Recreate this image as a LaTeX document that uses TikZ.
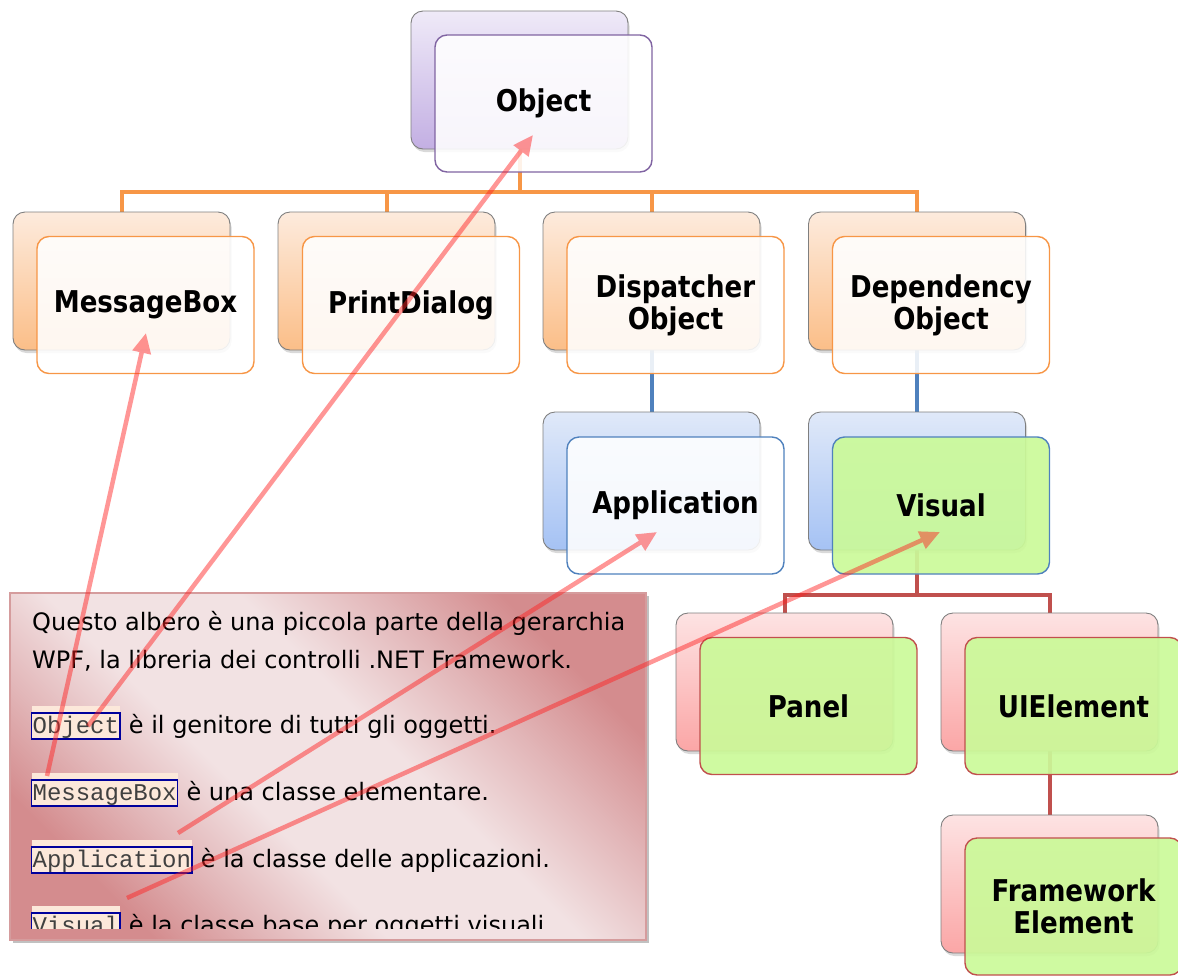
\documentclass[tikz,border=0pt]{standalone}
\usepackage{fontspec}
\setmainfont{DejaVu Sans}
\newfontfamily\labfont{DejaVu Sans}[FakeStretch=0.87]
\newfontfamily\tagmono{Liberation Mono}
\usetikzlibrary{arrows.meta,shadows,calc}
\pgfdeclarelayer{bg}
\pgfsetlayers{bg,main}
\definecolor{orln}{HTML}{F79646}
\definecolor{blln}{HTML}{4F81BD}
\definecolor{rdln}{HTML}{C0504D}
\definecolor{puln}{HTML}{8064A2}
\definecolor{putop}{HTML}{EFEAF8}
\definecolor{pubot}{HTML}{C3AFE3}
\definecolor{ortop}{HTML}{FDEBDD}
\definecolor{orbot}{HTML}{FBBE88}
\definecolor{bltop}{HTML}{E0E9F9}
\definecolor{blbot}{HTML}{A5C2F4}
\definecolor{rdtop}{HTML}{FDE3E3}
\definecolor{rdbot}{HTML}{FBA6A6}
\definecolor{grfill}{HTML}{CBFA99}
\definecolor{backdraw}{HTML}{7F7F7F}
\definecolor{tbdark}{HTML}{D48C8E}
\definecolor{tbmid}{HTML}{E2B6B8}
\definecolor{tblight}{HTML}{F2E2E3}
\definecolor{tbborder}{HTML}{D59C9D}
\definecolor{tagblue}{HTML}{00009C}
\definecolor{peach}{HTML}{FCE8DA}
\definecolor{tagtext}{HTML}{404040}
\definecolor{arrcol}{HTML}{FF2020}
\pgfdeclarehorizontalshading{panelshade}{100bp}{color(0bp)=(tbdark); color(25bp)=(tbdark); color(33bp)=(tbmid); color(42bp)=(tblight); color(56bp)=(tblight); color(66bp)=(tbmid); color(75bp)=(tbdark); color(100bp)=(tbdark)}
\begin{document}
\begin{tikzpicture}[x=1pt,y=-1pt,
  backbox/.style={draw=backdraw, line width=0.9pt, rounded corners=12pt,
    minimum width=217pt, minimum height=138pt, inner sep=0pt,
    drop shadow={shadow xshift=1.5pt, shadow yshift=-3pt, opacity=0.3}},
  purpleback/.style={backbox, top color=putop, bottom color=pubot},
  orangeback/.style={backbox, top color=ortop, bottom color=orbot},
  blueback/.style={backbox, top color=bltop, bottom color=blbot},
  redback/.style={backbox, top color=rdtop, bottom color=rdbot},
  frontbox/.style={line width=1.4pt, rounded corners=12pt,
    minimum width=217pt, minimum height=137pt, inner sep=0pt,
    fill=white, fill opacity=0.88, text opacity=1, align=center,
    font=\labfont\bfseries\fontsize{30}{32}\selectfont},
  greenbox/.style={frontbox, fill=grfill, fill opacity=0.92},
  orconn/.style={draw=orln, line width=4pt},
  blconn/.style={draw=blln, line width=4pt},
  rdconn/.style={draw=rdln, line width=4pt},
  panel/.style={draw=tbborder, line width=1.5pt, minimum width=636pt, minimum height=347pt,
    inner sep=0pt, shading=panelshade, shading angle=45,
    drop shadow={shadow xshift=3pt, shadow yshift=-3pt, opacity=0.35, fill=black!70}},
  bodytxt/.style={inner sep=0pt, font=\fontsize{24}{28}\selectfont, text=black},
  tagbox/.style={draw=tagblue, line width=1.3pt, fill=peach, inner xsep=1pt, inner ysep=2pt,
    text height=18pt, text depth=4pt, text=tagtext, font=\tagmono\fontsize{24}{26}\selectfont},
  arr/.style={draw=arrcol, line width=4.5pt, -{Triangle[length=20pt,width=18pt]}}
]
\useasboundingbox (0,0) rectangle (1178,978);

% back boxes
\node[purpleback] (objB) at (519.5,80) {};
\node[orangeback] (mbB) at (121.5,281) {};
\node[orangeback] (pdB) at (386.5,281) {};
\node[orangeback] (dispB) at (651.5,281) {};
\node[orangeback] (depB) at (917,281) {};
\node[blueback] (appB) at (651.5,481) {};
\node[blueback] (visB) at (917,481) {};
\node[redback] (panB) at (784.5,682) {};
\node[redback] (uiB) at (1049.5,682) {};
\node[redback] (feB) at (1049.5,884) {};

% front boxes
\node[frontbox, draw=puln] (obj) at (543.5,103.5) {Object};
\node[frontbox, draw=orln] (mb) at (145.5,305) {MessageBox};
\node[frontbox, draw=orln] (pd) at (411,305) {PrintDialog};
\node[frontbox, draw=orln] (disp) at (675.5,305) {Dispatcher\\Object};
\node[frontbox, draw=orln] (dep) at (941,305) {Dependency\\Object};
\node[frontbox, draw=blln] (app) at (675.5,505.5) {Application};
\node[greenbox, draw=blln] (vis) at (941,505.5) {Visual};
\node[greenbox, draw=rdln] (pan) at (808.5,706) {Panel};
\node[greenbox, draw=rdln] (ui) at (1073.5,706) {UIElement};
\node[greenbox, draw=rdln] (fe) at (1073.5,906.5) {Framework\\Element};

% connectors
\coordinate (busO) at (519.5,192);
\coordinate (busV) at (917,595);
\begin{pgfonlayer}{bg}
\draw[orconn] (objB.south) -- (busO);
\draw[orconn] (busO) -| (mbB.north);
\draw[orconn] (busO) -| (pdB.north);
\draw[orconn] (busO) -| (dispB.north);
\draw[orconn] (busO) -| (depB.north);
\draw[blconn] (dispB.south) -- (appB.north);
\draw[blconn] (depB.south) -- (visB.north);
\draw[rdconn] (visB.south) -- (busV);
\draw[rdconn] (busV) -| (panB.north);
\draw[rdconn] (busV) -| (uiB.north);
\draw[rdconn] (uiB.south) -- (feB.north);
\end{pgfonlayer}

% text panel
\node[panel] (tb) at (328,766.5) {};
\node[bodytxt, anchor=base west] (l1) at (32,630) {\makebox[593pt][s]{Questo albero è una piccola parte della gerarchia}};
\node[bodytxt, anchor=base west] (l2) at (32,668) {WPF, la libreria dei controlli .NET Framework.};

\node[tagbox, anchor=base west] (tObj) at (31,733) {Object};
\fill[peach] ($(tObj.north west)+(0.6,-0.7)$) rectangle ($(tObj.north east)+(-0.6,-6)$);
\node[bodytxt, anchor=base west] (d1) at ($(tObj.base east)+(8,0)$) {è il genitore di tutti gli oggetti.};

\node[tagbox, anchor=base west] (tMb) at (31,800) {MessageBox};
\fill[peach] ($(tMb.north west)+(0.6,-0.7)$) rectangle ($(tMb.north east)+(-0.6,-6)$);
\node[bodytxt, anchor=base west] (d2) at ($(tMb.base east)+(8,0)$) {è una classe elementare.};

\node[tagbox, anchor=base west] (tApp) at (31,867) {Application};
\fill[peach] ($(tApp.north west)+(0.6,-0.7)$) rectangle ($(tApp.north east)+(-0.6,-6)$);
\node[bodytxt, anchor=base west] (d3) at ($(tApp.base east)+(8,0)$) {è la classe delle applicazioni.};

\begin{scope}
\clip (10,593) rectangle (646,928);
\node[tagbox, anchor=base west] (tVis) at (31,933) {Visual};
\fill[peach] ($(tVis.north west)+(0.6,-0.7)$) rectangle ($(tVis.north east)+(-0.6,-6)$);
\node[bodytxt, anchor=base west] (d4) at ($(tVis.base east)+(8,0)$) {è la classe base per oggetti visuali};
\end{scope}

% arrows
\coordinate (s1) at (47,776);  \coordinate (e1) at (146,333);
\coordinate (s2) at (88,726);  \coordinate (e2) at (533,135);
\coordinate (s3) at (178,833); \coordinate (e3) at (657,532);
\coordinate (s4) at (127,898); \coordinate (e4) at (940,532);
\begin{scope}[transparency group, opacity=0.47]
\draw[arr] (s1) -- (e1);
\end{scope}
\begin{scope}[transparency group, opacity=0.47]
\draw[arr] (s2) -- (e2);
\end{scope}
\begin{scope}[transparency group, opacity=0.47]
\draw[arr] (s3) -- (e3);
\end{scope}
\begin{scope}[transparency group, opacity=0.47]
\draw[arr] (s4) -- (e4);
\end{scope}
\end{tikzpicture}
\end{document}
